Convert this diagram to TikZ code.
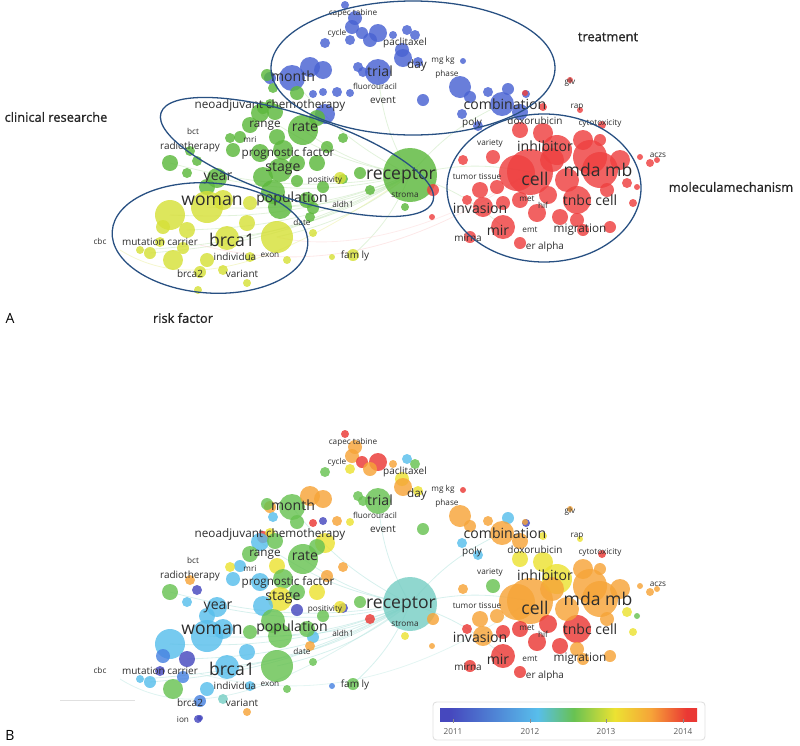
\documentclass[tikz,border=0pt]{standalone}
\usepackage{fontspec}
\setmainfont{Open Sans}
\newfontface\titlefont{Open Sans}[FakeBold=1]

% cluster colours (panel A)
\definecolor{cR}{RGB}{238,64,64}
\definecolor{cG}{RGB}{92,184,60}
\definecolor{cB}{RGB}{72,98,210}
\definecolor{cY}{RGB}{214,224,56}
% year colours (panel B)
\definecolor{yA}{RGB}{70,72,190}
\definecolor{yB}{RGB}{72,130,225}
\definecolor{yC}{RGB}{88,190,235}
\definecolor{yD}{RGB}{104,194,82}
\definecolor{yE}{RGB}{236,226,50}
\definecolor{yF}{RGB}{246,164,56}
\definecolor{yG}{RGB}{234,56,52}
\definecolor{yT}{RGB}{120,206,196}
\definecolor{lbltext}{RGB}{45,45,45}

% bar: pgf maps the path onto 25bp..75bp of the shading
\pgfdeclarehorizontalshading{yearbar}{100bp}{color(0bp)=(yA); color(27bp)=(yA);
  color(44bp)=(yC); color(51bp)=(yD); color(59bp)=(yE); color(66bp)=(yF);
  color(73bp)=(yG); color(100bp)=(yG)}

\newcommand\szA{\fontsize{7}{8}\selectfont}
\newcommand\szB{\fontsize{8.5}{10}\selectfont}
\newcommand\szC{\fontsize{10}{12}\selectfont}
\newcommand\szD{\fontsize{12}{14}\selectfont}
\newcommand\szE{\fontsize{15}{17}\selectfont}

% x / y / radius / cluster colour / year colour
\newcommand\bubblelist{%
345/5/4/cB/yG, 355/18/7/cB/yF, 352/27/7/cB/yF, 362/33/6/cB/yG, 378/33/9/cB/yG,
370/40/7/cB/yF, 350/40/5/cB/yE, 325/43/5/cB/yD, 407/30/5/cB/yC, 415/35/5/cB/yD,
393/35/4/cB/yF, 402/50/7/cB/yE, 403/58/9/cB/yF, 418/62/5/cB/yE, 463/61/3/cB/yG,
292/78/13/cB/yD, 310/67/10/cB/yF, 323/70/9/cB/yF, 270/78/6/cB/yF, 378/72/13/cB/yD,
358/67/5/cB/yD, 363/72/5/cB/yD, 313/94/4/cB/yG, 323/92/4/cB/yA, 337/92/5/cB/yF,
350/93/4/cB/yE, 325/114/10/cB/yE, 460/87/11/cB/yF, 470/97/6/cB/yF, 488/92/5/cB/yF,
508/89/6/cB/yC, 526/94/4/cB/yA, 502/104/12/cB/yF, 520/112/8/cB/yF, 423/100/6/cB/yD,
462/114/5/cB/yC, 478/126/5/cB/yC,
410/175/27/cG/yT, 267/75/6/cG/yD, 273/88/5/cG/yC, 297/93/7/cG/yD, 263/108/6/cG/yG,
270/104/5/cG/yE, 260/113/9/cG/yC, 275/112/8/cG/yD, 250/125/8/cG/yD, 317/118/8/cG/yD,
303/130/15/cG/yD, 277/137/8/cG/yE, 240/137/6/cG/yC, 230/138/5/cG/yE, 343/138/5/cG/yF,
233/150/7/cG/yC, 190/151/5/cG/yF, 170/163/8/cG/yD, 197/161/5/cG/yA, 187/173/5/cG/yC,
260/153/9/cG/yC, 283/150/10/cG/yD, 280/170/12/cG/yE, 263/177/10/cG/yC, 297/163/8/cG/yD,
317/163/8/cG/yE, 327/147/6/cG/yF, 273/192/12/cG/yD, 280/207/12/cG/yD, 313/208/6/cG/yC,
310/217/5/cG/yF, 217/178/10/cG/yC, 207/187/8/cG/yC, 343/179/5/cG/yA, 370/190/5/cG/yG,
323/187/6/cG/yD, 405/207/4/cG/yE, 297/181/6/cG/yA, 340/178/6/cY/yE, 307/200/8/cG/yD,
250/203/7/cY/yD, 360/173/6/cG/yD,
170/215/15/cY/yC, 207/207/16/cY/yC, 223/200/10/cY/yC, 277/237/16/cY/yD, 247/223/8/cY/yC,
227/238/12/cY/yC, 187/230/8/cY/yA, 163/227/7/cY/yB, 173/260/10/cY/yD, 150/253/6/cY/yC,
207/260/7/cY/yC, 200/272/6/cY/yB, 223/270/5/cY/yT, 250/257/5/cY/yC, 198/290/4/cY/yA,
247/283/4/cY/yF, 287/260/4/cY/yD, 313/233/4/cY/yD, 332/257/3/cY/yB, 353/255/6/cY/yD,
160/242/5/cY/yA, 140/250/4/cY/yC, 183/248/6/cY/yB,
530/172/23/cR/yF, 517/173/18/cR/yF, 557/150/15/cR/yE, 590/157/17/cR/yF, 600/170/18/cR/yF,
620/160/10/cR/yF, 577/200/14/cR/yG, 583/140/10/cR/yF, 543/133/10/cR/yE, 520/130/8/cR/yE,
493/157/7/cR/yD, 463/160/5/cR/yF, 480/190/8/cR/yF, 483/207/10/cR/yF, 503/227/12/cR/yG,
470/237/6/cR/yG, 520/243/6/cR/yG, 537/213/9/cR/yG, 560/217/8/cR/yG, 577/220/7/cR/yF,
607/190/7/cR/yF, 627/183/5/cR/yE, 633/203/4/cR/yE, 637/187/3/cR/yD, 610/227/6/cR/yF,
583/230/6/cR/yF, 650/163/4/cR/yF, 657/160/3/cR/yF, 552/160/12/cR/yF, 567/180/12/cR/yF,
503/203/7/cR/yG, 520/200/8/cR/yG, 497/187/7/cR/yF, 467/200/5/cR/yG, 433/190/6/cR/yF,
432/217/3/cR/yF, 525/93/3/cR/yF, 543/107/4/cR/yE, 580/110/3/cR/yE, 602/125/4/cR/yG,
640/157/3/cR/yF, 570/80/3/cR/yF, 548/195/9/cR/yG, 600/140/6/cR/yF}

% x / y / size / text
\newcommand\labellist{%
353/13/\szA/capec tabine, 337/33/\szA/cycle, 405/43/\szB/paclitaxel, 293/76/\szD/month,
380/71/\szD/trial, 417/65/\szC/day, 443/60/\szA/mg kg, 447/74/\szA/phase,
375/86/\szA/fluorouracil, 383/100/\szB/event, 505/104/\szD/combination, 472/123/\szB/poly,
535/121/\szB/doxorubicin, 570/82/\szA/glv, 577/107/\szA/rap, 600/123/\szA/cytotoxicity,
658/155/\szA/aczs, 545/146/\szD/inhibitor, 490/143/\szA/variety, 477/177/\szA/tumor tissue,
535/179/\szE/cell, 598/170/\szE/mda mb, 590/200/\szD/tnbc cell, 527/199/\szA/met,
543/205/\szA/hif, 480/208/\szD/invasion, 498/230/\szD/mir, 468/238/\szB/mirna,
530/230/\szA/emt, 580/230/\szC/migration, 545/247/\szB/er alpha,
270/105/\szC/neoadjuvant chemotherapy, 265/126/\szC/range, 305/127/\szD/rate,
193/131/\szA/bct, 250/139/\szA/mri, 190/147/\szB/radiotherapy, 288/153/\szC/prognostic factor,
283/169/\szD/stage, 325/180/\szA/positivity, 218/178/\szD/year, 401/176/\szE/receptor,
405/195/\szA/stroma, 292/199/\szD/population, 343/204/\szA/aldh1, 302/222/\szA/date,
212/201/\szE/woman, 232/240/\szE/brca1, 160/242/\szB/mutation carrier, 100/241/\szA/cbc,
235/257/\szB/individua, 270/255/\szA/exon, 190/274/\szB/brca2, 242/274/\szB/variant,
355/256/\szB/fam ly}

\newcommand\linklist{%
207/207, 227/238, 170/215, 277/237, 292/78, 170/163, 303/130, 150/253, 353/255,
503/227, 530/172, 502/104, 217/178, 280/207, 260/113, 140/250, 378/72, 187/230}

\begin{document}
\begin{tikzpicture}[
    x=0.03cm, y=-0.03cm,
    bubble/.style={fill opacity=0.82},
    kw/.style={text=lbltext, inner sep=0pt},
    group/.style={font=\titlefont\fontsize{11}{13}\selectfont, text=black!85},
    ring/.style={draw={rgb,255:red,40;green,80;blue,130}, line width=1.1pt},
    link/.style={line width=0.7pt, opacity=0.4}
]
\useasboundingbox (0,0) rectangle (800,746);

% ---------- panel A: clusters ----------
\foreach \x/\y in \linklist
    \draw[link, cG!45] (410,175) to[bend left=12] (\x,\y);
\draw[link, cY!60] (410,175) .. controls (300,250) and (200,300) .. (120,250);
\draw[link, cR!30] (530,172) .. controls (400,260) and (300,270) .. (200,245);
\draw[link, cR!25] (530,172) .. controls (420,240) and (330,250) .. (277,237);

\foreach \x/\y/\r/\ca/\cb in \bubblelist
    \fill[bubble, \ca] (\x,\y) circle[radius=\r*0.03cm];

\foreach \x/\y/\s/\t [count=\i] in \labellist
    \node[kw, font=\s] (a\i) at (\x,\y) {\t};

% cluster rings
\draw[ring] (413,68) ellipse[x radius=142, y radius=67];
\draw[ring] (297,157) ellipse[x radius=143, y radius=42, rotate=-18];
\draw[ring] (210,238) ellipse[x radius=98, y radius=55, rotate=-4];
\draw[ring] (544,188) ellipse[x radius=97, y radius=74];

\node[group] (gtreat) at (608,37) {treatment};
\node[group] (gclin)  at (56,117) {clinical researche};
\node[group] (gmol)   at (731,187) {moleculamechanism};
\node[group] (grisk)  at (183,318) {risk factor};
\node[font=\fontsize{12}{14}\selectfont] (pA) at (10,318) {A};

% ---------- panel B: average year ----------
\begin{scope}[shift={(0,429)}]
\foreach \x/\y in \linklist
    \draw[link, yT!75] (410,175) to[bend left=12] (\x,\y);
\draw[link, yT!60] (410,175) .. controls (300,250) and (200,300) .. (120,250);
\draw[link, yT!50] (530,172) .. controls (400,260) and (300,270) .. (200,245);
\draw[line width=0.6pt, black!12] (60,271) -- (135,271);

\foreach \x/\y/\r/\ca/\cb in \bubblelist
    \fill[bubble, \cb] (\x,\y) circle[radius=\r*0.03cm];
\fill[bubble, yA] (200,289) circle[radius=3*0.03cm];

\foreach \x/\y/\s/\t [count=\i] in \labellist
    \node[kw, font=\s] (b\i) at (\x,\y) {\t};
\node[kw, font=\szA] (bion) at (183,291) {ion};

% colour bar
\draw[black!12, rounded corners=3pt, line width=0.8pt] (433,273) rectangle (705,311);
\shade[shading=yearbar] (440,279) rectangle (697,292);
\foreach \yr/\xt [count=\i] in {2011/453, 2012/530, 2013/606, 2014/683} {
    \draw[black!45, line width=0.4pt] (\xt,290) -- (\xt,294);
    \node[font=\szA, text=black!65] (yr\i) at (\xt,303) {\yr};
}
\end{scope}
\node[font=\fontsize{12}{14}\selectfont] (pB) at (10,735) {B};

\end{tikzpicture}
\end{document}
